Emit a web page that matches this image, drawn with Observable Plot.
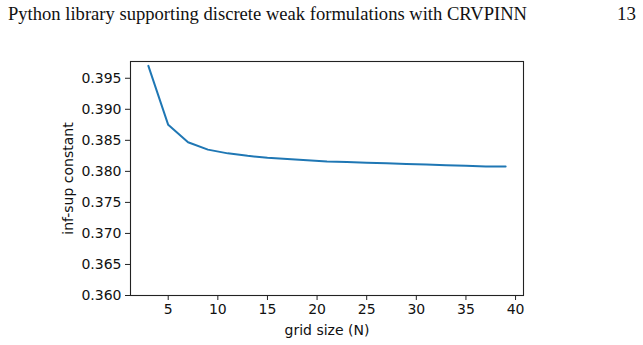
<!DOCTYPE html>
<html>
<head>
<meta charset="utf-8">
<script src="https://cdn.jsdelivr.net/npm/d3@7"></script>
<script src="https://cdn.jsdelivr.net/npm/@observablehq/plot@0.6"></script>
<style>
  body { margin: 0; background: #fff; width: 643px; height: 345px; overflow: hidden; position: relative; }
  .head { position: absolute; top: 3px; font-family: "Liberation Serif", "DejaVu Serif", serif; font-size: 19px; color: #111; white-space: nowrap; }
  #title { left: 8px; transform-origin: 0 0; }
  #page { right: 7px; }
  #chart { position: absolute; left: 0; top: 40px; }
</style>
</head>
<body>
<div class="head" id="title">Python library supporting discrete weak formulations with CRVPINN</div>
<div class="head" id="page">13</div>
<div id="chart"></div>
<script>
// grid sizes N and the computed inf-sup constant for each
const gridSizes = [3, 5, 7, 9, 11, 13, 15, 17, 19, 21, 23, 25, 27, 29, 31, 33, 35, 37, 39];
const infSup = [0.3970, 0.3875, 0.3847, 0.3835, 0.3829, 0.3825, 0.3822, 0.3820, 0.3818, 0.3816,
                0.3815, 0.3814, 0.3813, 0.3812, 0.3811, 0.3810, 0.3809, 0.3808, 0.3808];
const xTicks = [5, 10, 15, 20, 25, 30, 35, 40];
const yTicks = [0.360, 0.365, 0.370, 0.375, 0.380, 0.385, 0.390, 0.395];

const rows = gridSizes.map((n, i) => ({n, v: infSup[i]}));

// stretch the running head to the text block width
const title = document.getElementById("title");
const w = title.getBoundingClientRect().width;
title.style.transform = `scaleX(${519 / w})`;

const fontFam = "DejaVu Sans, sans-serif";
const chart = Plot.plot({
  width: 643,
  height: 300,
  marginLeft: 130,
  marginRight: 120,
  marginTop: 21,
  marginBottom: 45,
  style: {fontFamily: fontFam, fontSize: "14px", color: "#111", background: "#fff"},
  x: {domain: [1.2, 40.8]},
  y: {domain: [0.360, 0.3977]},
  marks: [
    Plot.line(rows, {x: "n", y: "v", stroke: "#1f77b4", strokeWidth: 2}),
    Plot.frame({stroke: "#222", strokeWidth: 1.1}),
    Plot.axisX({ticks: xTicks, tickSize: 5, tickPadding: 4, tickFormat: d => String(d),
                label: "grid size (N)", labelAnchor: "center", labelArrow: "none", labelOffset: 39,
                stroke: "#222", fontSize: 14}),
    Plot.axisY({ticks: yTicks, tickSize: 5, tickPadding: 4, tickFormat: d3.format(".3f"),
                label: "inf-sup constant", labelAnchor: "center", labelArrow: "none", labelOffset: 67,
                stroke: "#222", fontSize: 14})
  ]
});
document.getElementById("chart").appendChild(chart);
</script>
</body>
</html>
